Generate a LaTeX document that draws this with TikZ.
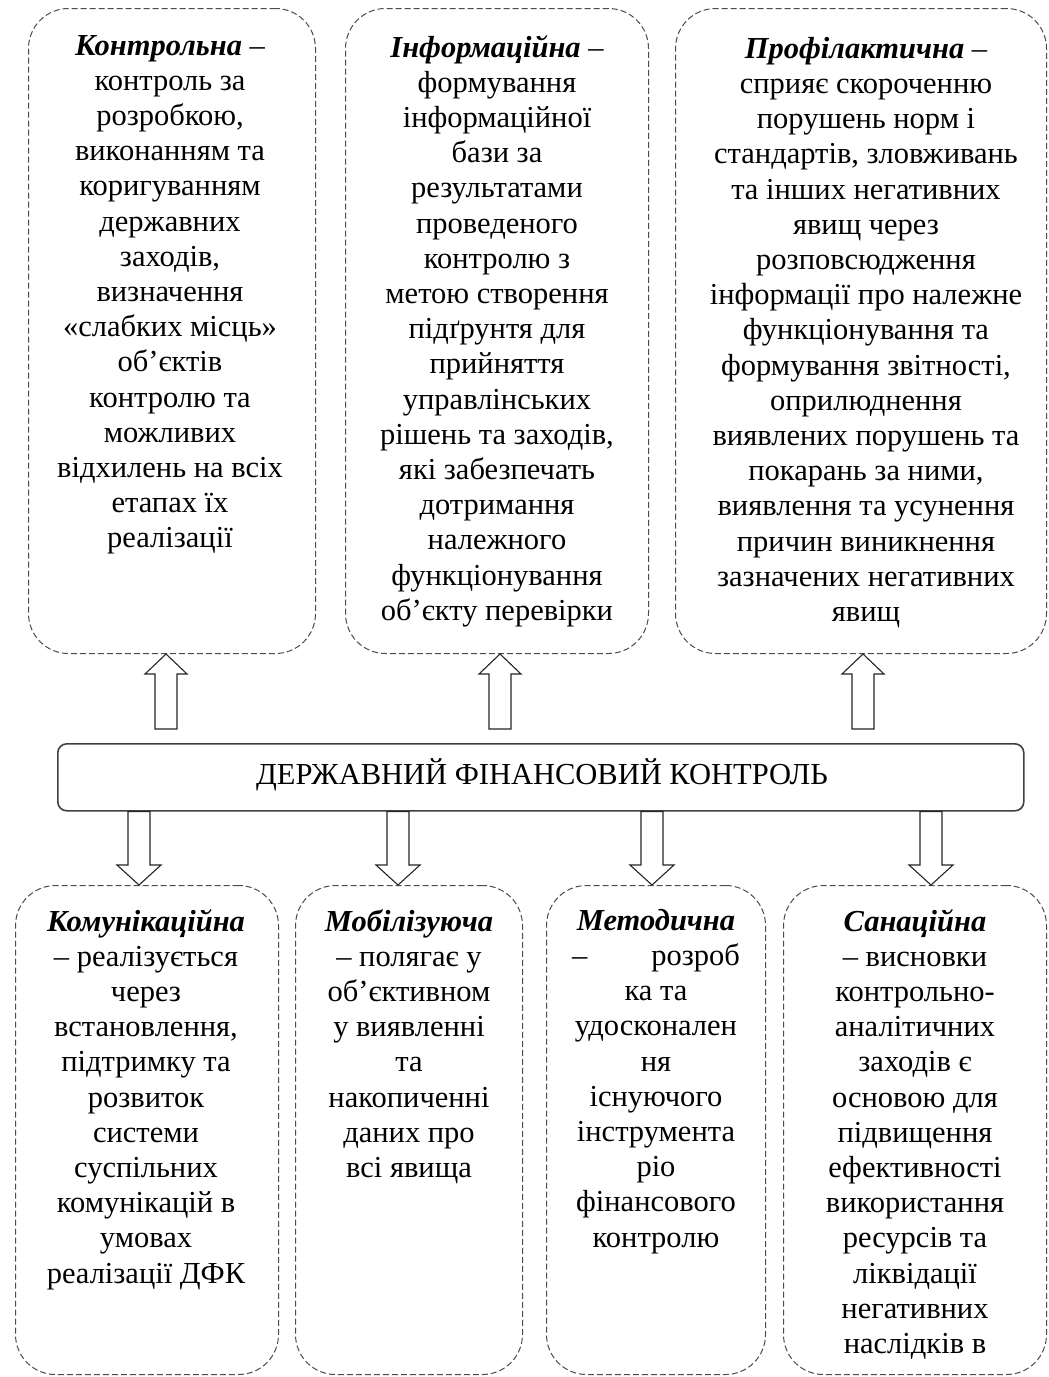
\documentclass[tikz,border=0pt]{standalone}
\usepackage{fontspec}
\setmainfont{Liberation Serif}
\usetikzlibrary{calc}
\tikzset{
  dbox/.style={draw=black!70, line width=1pt, dash pattern=on 6pt off 3pt, rounded corners=40pt, inner sep=0pt},
  barbox/.style={draw=black!75, line width=1.6pt, rounded corners=9pt, inner sep=0pt},
  txt/.style={align=center, inner sep=0pt, font=\fontsize{30.5}{35.2}\selectfont},
  blk/.style={draw=black!85, line width=1.1pt, fill=white, line join=miter},
}
\newcommand\upblk[2]{\draw[blk] let \p1=(#1), \p2=(#2) in
  (\x1-11pt,\y1) -- (\x1+11pt,\y1) -- (\x1+11pt,\y2-20pt) -- (\x1+21pt,\y2-20pt) -- (\x1,\y2)
  -- (\x1-21pt,\y2-20pt) -- (\x1-11pt,\y2-20pt) -- cycle;}
\newcommand\downblk[2]{\draw[blk] let \p1=(#1), \p2=(#2) in
  (\x1-11pt,\y1) -- (\x1+11pt,\y1) -- (\x1+11pt,\y2+20pt) -- (\x1+22pt,\y2+20pt) -- (\x1,\y2)
  -- (\x1-22pt,\y2+20pt) -- (\x1-11pt,\y2+20pt) -- cycle;}
\begin{document}
\begin{tikzpicture}[x=1pt,y=-1pt]
\useasboundingbox[fill=white] (0,0) rectangle (1049,1377);

% top boxes
\node[dbox, anchor=north west, minimum width=287pt, minimum height=645pt] (t1) at (28,8) {};
\node[dbox, anchor=north west, minimum width=303pt, minimum height=645pt] (t2) at (345,8) {};
\node[dbox, anchor=north west, minimum width=371pt, minimum height=645pt] (t3) at (675,8) {};

\node[txt, anchor=north] (t1txt) at (170,35) {\textbf{\textit{Контрольна}} –\\
контроль за\\ розробкою,\\ виконанням та\\ коригуванням\\ державних\\ заходів,\\ визначення\\
«слабких місць»\\ об’єктів\\ контролю та\\ можливих\\ відхилень на всіх\\ етапах їх\\ реалізації};

\node[txt, anchor=north] (t2txt) at (497,35) {\textbf{\textit{Інформаційна}} –\\
формування\\ інформаційної\\ бази за\\ результатами\\ проведеного\\ контролю з\\ метою створення\\
підґрунтя для\\ прийняття\\ управлінських\\ рішень та заходів,\\ які забезпечать\\ дотримання\\
належного\\ функціонування\\ об’єкту перевірки};

\node[txt, anchor=north] (t3txt) at (866,37) {\textbf{\textit{Профілактична}} –\\
сприяє скороченню\\ порушень норм і\\ стандартів, зловживань\\ та інших негативних\\ явищ через\\
розповсюдження\\ інформації про належне\\ функціонування та\\ формування звітності,\\
оприлюднення\\ виявлених порушень та\\ покарань за ними,\\ виявлення та усунення\\
причин виникнення\\ зазначених негативних\\ явищ};

% central bar
\node[barbox, anchor=north west, minimum width=966pt, minimum height=67pt] (bar) at (57,743) {};
\node[txt] (bartxt) at (542,775) {ДЕРЖАВНИЙ ФІНАНСОВИЙ КОНТРОЛЬ};

% bottom boxes
\node[dbox, anchor=north west, minimum width=263pt, minimum height=489pt] (b1) at (15,885) {};
\node[dbox, anchor=north west, minimum width=227pt, minimum height=489pt] (b2) at (295,885) {};
\node[dbox, anchor=north west, minimum width=219pt, minimum height=489pt] (b3) at (546,885) {};
\node[dbox, anchor=north west, minimum width=263pt, minimum height=489pt] (b4) at (783,885) {};

\node[txt, anchor=north] (b1txt) at (146,909) {\textbf{\textit{Комунікаційна}}\\
– реалізується\\ через\\ встановлення,\\ підтримку та\\ розвиток\\ системи\\ суспільних\\
комунікацій в\\ умовах\\ реалізації ДФК};

\node[txt, anchor=north] (b2txt) at (409,909) {\textbf{\textit{Мобілізуюча}}\\
– полягає у\\ об’єктивном\\ у виявленні\\ та\\ накопиченні\\ даних про\\ всі явища};

\node[txt, anchor=north] (b3txt) at (656,909) {\textbf{\textit{Методична}}\\
\makebox[168pt]{–\hfill розроб}\\ ка та\\ удосконален\\ ня\\ існуючого\\ інструмента\\ ріо\\
фінансового\\ контролю};

\node[txt, anchor=north] (b4txt) at (915,909) {\textbf{\textit{Санаційна}}\\
– висновки\\ контрольно-\\ аналітичних\\ заходів є\\ основою для\\ підвищення\\ ефективності\\
використання\\ ресурсів та\\ ліквідації\\ негативних\\ наслідків в};

% arrow tails / tips
\coordinate (u1) at (166,729);
\coordinate (u2) at (500,729);
\coordinate (u3) at (863,729);
\coordinate (d1) at (139,885);
\coordinate (d2) at (398,885);
\coordinate (d3) at (652,885);
\coordinate (d4) at (931,885);

\upblk{u1}{u1 |- t1.south}
\upblk{u2}{u2 |- t2.south}
\upblk{u3}{u3 |- t3.south}
\downblk{d1 |- bar.south}{d1 |- b1.north}
\downblk{d2 |- bar.south}{d2 |- b2.north}
\downblk{d3 |- bar.south}{d3 |- b3.north}
\downblk{d4 |- bar.south}{d4 |- b4.north}
\end{tikzpicture}
\end{document}
